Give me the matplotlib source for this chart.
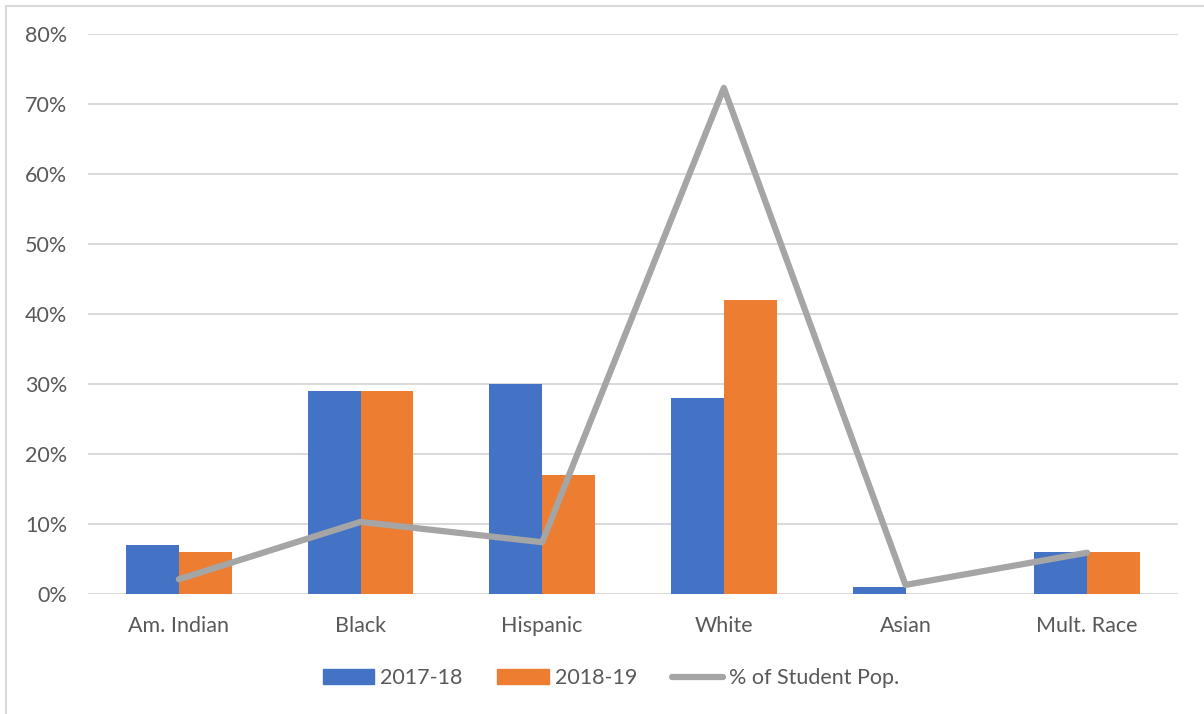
import numpy as np
import matplotlib.pyplot as plt
from matplotlib.lines import Line2D
from matplotlib.patches import Patch
from matplotlib.ticker import PercentFormatter

groups = ["Am. Indian", "Black", "Hispanic", "White", "Asian", "Mult. Race"]
rate_2017_18 = [7, 29, 30, 28, 1, 6]
rate_2018_19 = [6, 29, 17, 42, 0, 6]
student_pop = [2.1, 10.3, 7.4, 72.3, 1.3, 5.9]
y_ticks = [0, 10, 20, 30, 40, 50, 60, 70, 80]

blue = "#4472C4"
orange = "#ED7D31"
gray = "#A5A5A5"
text_color = "#595959"
grid_color = "#D9D9D9"
font_size = 15.5

plt.rcParams["font.family"] = ["Lato", "DejaVu Sans"]
plt.rcParams["font.size"] = font_size

fig = plt.figure(figsize=(12.04, 7.14), dpi=100)
ax = fig.add_axes([88 / 1204, 1 - 594 / 714, 1090 / 1204, 560 / 714])

x = np.arange(len(groups))
width = 0.29
ax.bar(x - width / 2, rate_2017_18, width, color=blue, zorder=2)
ax.bar(x + width / 2, rate_2018_19, width, color=orange, zorder=2)
ax.plot(x, student_pop, color=gray, linewidth=4.5, solid_capstyle="round",
        solid_joinstyle="round", zorder=3)

ax.set_xlim(-0.5, len(groups) - 0.5)
ax.set_ylim(0, 80)
ax.set_yticks(y_ticks)
ax.yaxis.set_major_formatter(PercentFormatter(decimals=0))
ax.set_xticks(x)
ax.set_xticklabels(groups)
ax.grid(axis="y", color=grid_color, linewidth=1.4, zorder=0)
ax.set_axisbelow(True)
for side in ["top", "right", "left", "bottom"]:
    ax.spines[side].set_visible(False)
ax.tick_params(axis="both", length=0, colors=text_color, labelsize=font_size)
ax.tick_params(axis="y", pad=15)
ax.tick_params(axis="x", pad=16)

# outer chart frame (only top and left edges show)
fig.add_artist(Line2D([6 / 1204, 6 / 1204], [0, 1 - 6 / 714], color=grid_color,
                      linewidth=1.5, transform=fig.transFigure))
fig.add_artist(Line2D([6 / 1204, 1], [1 - 6 / 714, 1 - 6 / 714], color=grid_color,
                      linewidth=1.5, transform=fig.transFigure))

handles = [Patch(color=blue, label="2017-18"),
           Patch(color=orange, label="2018-19"),
           Line2D([], [], color=gray, linewidth=4.5, solid_capstyle="round",
                  label="% of Student Pop.")]
leg = fig.legend(handles=handles, loc="center", bbox_to_anchor=(611 / 1204, 1 - 678 / 714),
                 ncol=3, frameon=False, handlelength=2.4, handleheight=0.65,
                 handletextpad=0.28, columnspacing=1.6, fontsize=font_size)
for t in leg.get_texts():
    t.set_color(text_color)

fig.savefig("out.png", dpi=100)
